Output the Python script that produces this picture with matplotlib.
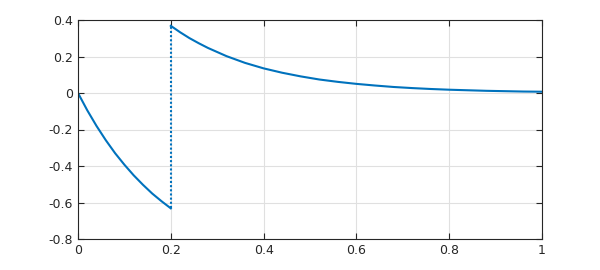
import matplotlib
matplotlib.use("Agg")
import matplotlib.pyplot as plt

# Segment before the jump
x1 = [0.00, 0.02, 0.04, 0.06, 0.08, 0.10, 0.12, 0.14, 0.16, 0.18, 0.20]
y1 = [0.000, -0.095, -0.181, -0.259, -0.330, -0.393, -0.451, -0.503, -0.551, -0.593, -0.632]

# Segment after the jump
x2 = [0.20, 0.22, 0.24, 0.26, 0.28, 0.32, 0.36, 0.40, 0.44, 0.48, 0.52, 0.56, 0.60,
      0.64, 0.68, 0.72, 0.76, 0.80, 0.84, 0.88, 0.92, 0.96, 1.00]
y2 = [0.368, 0.333, 0.301, 0.273, 0.247, 0.202, 0.165, 0.135, 0.111, 0.091, 0.074,
      0.061, 0.050, 0.041, 0.033, 0.027, 0.022, 0.018, 0.015, 0.012, 0.010, 0.008, 0.007]

# Jump connector
xj = [0.20, 0.20]
yj = [-0.632, 0.368]

xticks = [0, 0.2, 0.4, 0.6, 0.8, 1]
xticklabels = ["0", "0.2", "0.4", "0.6", "0.8", "1"]
yticks = [-0.8, -0.6, -0.4, -0.2, 0, 0.2, 0.4]
yticklabels = ["-0.8", "-0.6", "-0.4", "-0.2", "0", "0.2", "0.4"]

color = "#0072BD"
axcol = "#262626"

fig = plt.figure(figsize=(6, 2.7), dpi=100)
ax = fig.add_axes([78 / 600, 1 - 239 / 270, (542 - 78) / 600, (239 - 20) / 270])

ax.plot(x1, y1, color=color, lw=1.5)
ax.plot(x2, y2, color=color, lw=1.5)
ax.plot(xj, yj, color=color, lw=1.5, ls=(0, (1, 1)))

ax.set_xlim(0, 1)
ax.set_ylim(-0.8, 0.4)
ax.set_xticks(xticks)
ax.set_xticklabels(xticklabels)
ax.set_yticks(yticks)
ax.set_yticklabels(yticklabels)
ax.grid(True, color="#e0e0e0", lw=0.8)
ax.set_axisbelow(True)
ax.tick_params(direction="in", length=4, width=0.8, colors=axcol, labelsize=9,
               top=True, right=True)
for s in ax.spines.values():
    s.set_color(axcol)
    s.set_linewidth(0.8)

fig.savefig("out.png", dpi=100)
